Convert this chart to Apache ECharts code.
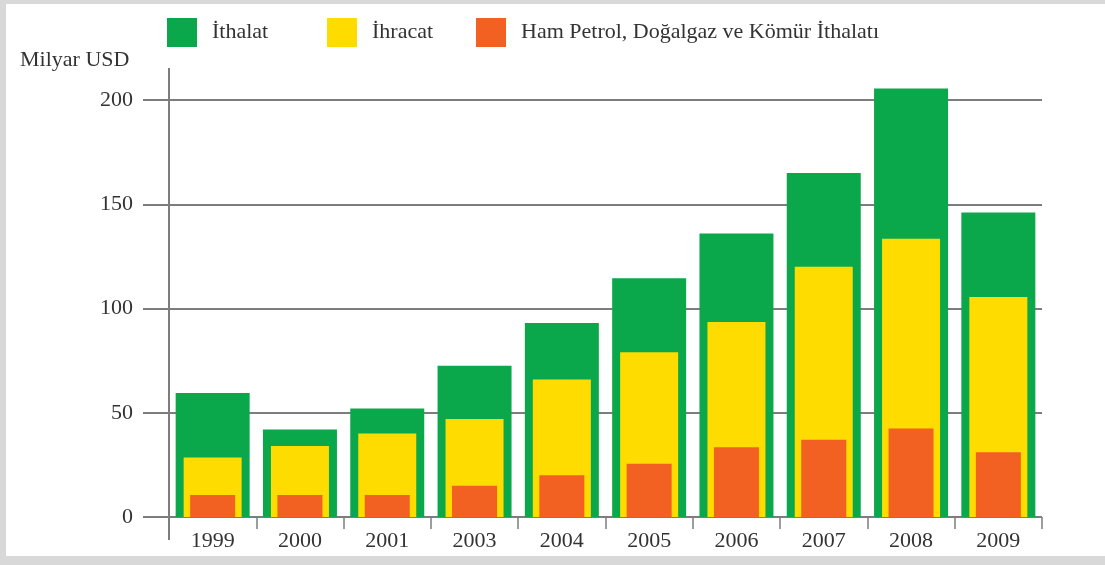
<!DOCTYPE html>
<html>
<head>
<meta charset="utf-8">
<script src="https://cdn.jsdelivr.net/npm/echarts@6/dist/echarts.min.js"></script>
<style>
  html, body { margin: 0; padding: 0; background: #d8d8d8; }
  #frame { position: absolute; left: 0; top: 0; width: 1105px; height: 565px; }
  #chart { position: absolute; left: 6px; top: 4px; width: 1099px; height: 552px; background: #ffffff; }
</style>
</head>
<body>
<div id="frame"><div id="chart"></div></div>
<script>
// Years on the category axis
const years = ['1999', '2000', '2001', '2003', '2004', '2005', '2006', '2007', '2008', '2009'];
// Billion USD per year
const ithalat = [59.5, 42, 52, 72.5, 93, 114.5, 136, 165, 205.5, 146];
const ihracat = [28.5, 34, 40, 47, 66, 79, 93.5, 120, 133.5, 105.5];
const enerjiIthalati = [10.5, 10.5, 10.5, 15, 20, 25.5, 33.5, 37, 42.5, 31];
// Value-axis ticks
const yTicks = [0, 50, 100, 150, 200];

const seriesNames = ['İthalat', 'İhracat', 'Ham Petrol, Doğalgaz ve Kömür İthalatı'];
const colors = ['#0aa84b', '#ffdc00', '#f26122'];

const FONT = '"Liberation Serif", "DejaVu Serif", serif';
const TEXT = '#333333';
const LINE = '#7d7d7d';

const chart = echarts.init(document.getElementById('chart'), null, { renderer: 'canvas' });

// Three overlaid category axes so each nested bar is centred in its year slot
function catAxis(visible) {
  return {
    type: 'category',
    data: years,
    show: visible,
    boundaryGap: true,
    axisLine: { show: false },
    axisTick: { show: visible, length: 12, lineStyle: { color: LINE, width: 1.5 } },
    axisLabel: { show: visible, margin: 13, fontFamily: FONT, fontSize: 22, color: TEXT }
  };
}

function legendAt(left, name) {
  return {
    left: left, top: 9,
    data: [name],
    icon: 'rect',
    itemWidth: 30, itemHeight: 29,
    textStyle: { fontFamily: FONT, fontSize: 22, color: TEXT, padding: [0, 0, 0, 10] },
    selectedMode: false
  };
}

chart.setOption({
  animation: false,
  color: colors,
  title: {
    text: 'Milyar USD', left: 9, top: 40,
    textStyle: { fontFamily: FONT, fontSize: 22, fontWeight: 'normal', color: TEXT }
  },
  legend: [
    legendAt(156, seriesNames[0]),
    legendAt(316, seriesNames[1]),
    legendAt(465, seriesNames[2])
  ],
  grid: { left: 163, right: 63, top: 96, bottom: 39 },
  xAxis: [catAxis(true), catAxis(false), catAxis(false)],
  yAxis: {
    type: 'value',
    min: yTicks[0], max: yTicks[yTicks.length - 1], interval: yTicks[1] - yTicks[0],
    axisLine: { show: false },
    axisTick: { show: true, length: 26, lineStyle: { color: LINE, width: 2 } },
    axisLabel: { margin: 36, fontFamily: FONT, fontSize: 22, color: TEXT },
    splitLine: { show: true, lineStyle: { color: LINE, width: 2 } }
  },
  series: [
    { name: seriesNames[0], type: 'bar', xAxisIndex: 0, data: ithalat, barWidth: 74, clip: false, itemStyle: { color: colors[0] } },
    { name: seriesNames[1], type: 'bar', xAxisIndex: 1, data: ihracat, barWidth: 58, clip: false, itemStyle: { color: colors[1] } },
    { name: seriesNames[2], type: 'bar', xAxisIndex: 2, data: enerjiIthalati, barWidth: 45, clip: false, itemStyle: { color: colors[2] } }
  ]
});

// Vertical value-axis line, running a little past both ends of the scale
const yTopPx = chart.convertToPixel({ yAxisIndex: 0 }, yTicks[yTicks.length - 1]);
const yZeroPx = chart.convertToPixel({ yAxisIndex: 0 }, yTicks[0]);
const c0 = chart.convertToPixel({ xAxisIndex: 0 }, years[0]);
const c1 = chart.convertToPixel({ xAxisIndex: 0 }, years[1]);
const axisX = c0 - (c1 - c0) / 2;
chart.setOption({
  graphic: [{
    type: 'line',
    shape: { x1: axisX, y1: yTopPx - 32, x2: axisX, y2: yZeroPx + 23 },
    style: { stroke: LINE, lineWidth: 2 },
    z: 10
  }]
});
</script>
</body>
</html>
